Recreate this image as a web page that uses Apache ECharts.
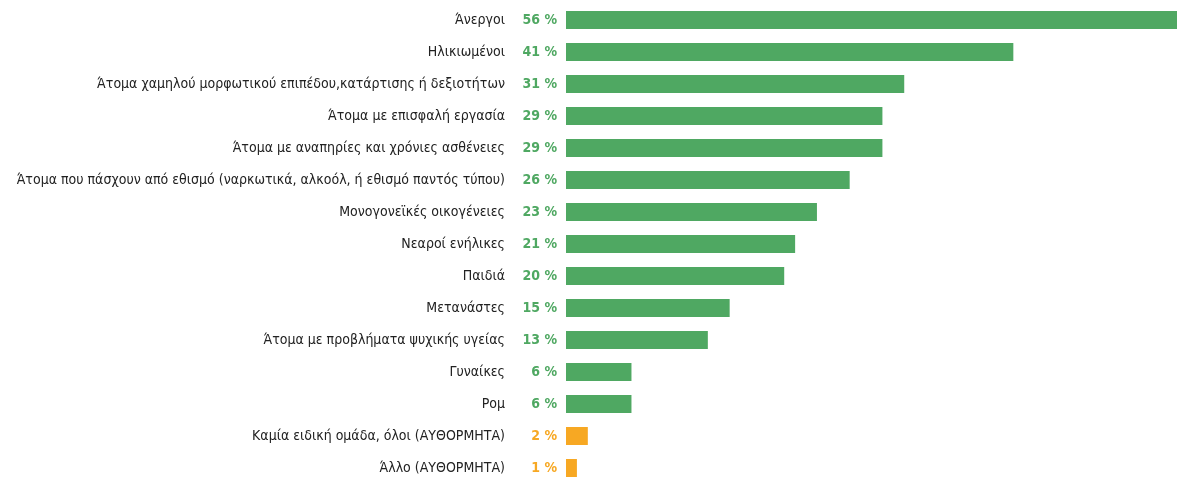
<!DOCTYPE html>
<html><head><meta charset="utf-8">
<script src="https://cdn.jsdelivr.net/npm/echarts@6/dist/echarts.min.js"></script>
<style>html,body{margin:0;padding:0;background:#fff}#c{width:1177px;height:480px}</style>
</head><body><div id="c"></div>
<script>
const categories = [
  "Άνεργοι",
  "Ηλικιωμένοι",
  "Άτομα χαμηλού μορφωτικού επιπέδου,κατάρτισης ή δεξιοτήτων",
  "Άτομα με επισφαλή εργασία",
  "Άτομα με αναπηρίες και χρόνιες ασθένειες",
  "Άτομα που πάσχουν από εθισμό (ναρκωτικά, αλκοόλ, ή εθισμό παντός τύπου)",
  "Μονογονεϊκές οικογένειες",
  "Νεαροί ενήλικες",
  "Παιδιά",
  "Μετανάστες",
  "Άτομα με προβλήματα ψυχικής υγείας",
  "Γυναίκες",
  "Ρομ",
  "Καμία ειδική ομάδα, όλοι (ΑΥΘΟΡΜΗΤΑ)",
  "Άλλο (ΑΥΘΟΡΜΗΤΑ)"
];
const values = [56, 41, 31, 29, 29, 26, 23, 21, 20, 15, 13, 6, 6, 2, 1];
const spontaneous = [false,false,false,false,false,false,false,false,false,false,false,false,false,true,true];
const GREEN = '#4fa862', ORANGE = '#f7a823';
const FONT = '"Liberation Sans Narrow","DejaVu Sans Condensed",sans-serif';
const chart = echarts.init(document.getElementById('c'));
chart.setOption({
  animation:false,
  grid:{left:566, right:0, top:4, height:480, containLabel:false, outerBoundsMode:'none'},
  xAxis:{type:'value', min:0, max:56, show:false},
  yAxis:{type:'category', inverse:true, data:categories,
    axisLine:{show:false}, axisTick:{show:false}, splitLine:{show:false},
    axisLabel:{margin:61, color:'#222', fontSize:14, fontFamily:FONT}},
  series:[{type:'bar', barWidth:18,
    data: values.map((v,i)=>({value:v, itemStyle:{color: spontaneous[i]?ORANGE:GREEN},
      label:{color: spontaneous[i]?ORANGE:GREEN}})),
    label:{show:true, position:'left', distance:9, formatter:p=>p.value+' %',
      fontFamily:FONT, fontWeight:'bold', fontSize:14}
  }]
});
</script></body></html>
